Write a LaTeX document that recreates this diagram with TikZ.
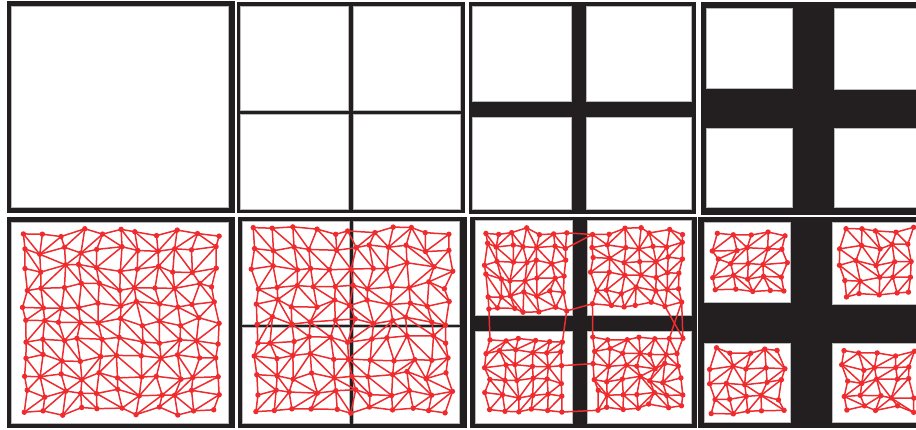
\documentclass[tikz,border=0pt]{standalone}
\usepackage{tikz}

\definecolor{ink}{HTML}{231F20}
\definecolor{meshred}{HTML}{EE2B2E}

% jittered triangle mesh: name, x0, y0, x1, y1, nx, ny
\newcommand{\trimesh}[7]{%
  \pgfmathsetmacro\mdx{(#4-#2)/#6}
  \pgfmathsetmacro\mdy{(#5-#3)/#7}
  \foreach \i in {0,...,#6}{
    \foreach \j in {0,...,#7}{
      \pgfmathsetmacro\px{#2+\i*\mdx+0.24*\mdx*rand}
      \pgfmathsetmacro\py{#3+\j*\mdy+0.24*\mdy*rand}
      \coordinate (#1-\i-\j) at (\px,\py);
    }
  }
  \pgfmathtruncatemacro\nxm{#6-1}
  \pgfmathtruncatemacro\nym{#7-1}
  % rows
  \foreach \i in {0,...,\nxm}{
    \pgfmathtruncatemacro\ii{\i+1}
    \foreach \j in {0,...,#7}{
      \draw[meshedge] (#1-\i-\j) -- (#1-\ii-\j);
    }
  }
  % columns
  \foreach \i in {0,...,#6}{
    \foreach \j in {0,...,\nym}{
      \pgfmathtruncatemacro\jj{\j+1}
      \draw[meshedge] (#1-\i-\j) -- (#1-\i-\jj);
    }
  }
  % diagonals
  \foreach \i in {0,...,\nxm}{
    \pgfmathtruncatemacro\ii{\i+1}
    \foreach \j in {0,...,\nym}{
      \pgfmathtruncatemacro\jj{\j+1}
      \pgfmathtruncatemacro\flip{rand>0}
      \ifnum\flip=1
        \draw[meshedge] (#1-\i-\j) -- (#1-\ii-\jj);
      \else
        \draw[meshedge] (#1-\ii-\j) -- (#1-\i-\jj);
      \fi
    }
  }
  % vertices
  \foreach \i in {0,...,#6}{
    \foreach \j in {0,...,#7}{
      \fill[meshdot] (#1-\i-\j) circle (0.27mm);
    }
  }
}

\begin{document}
\begin{tikzpicture}[x=0.1mm, y=-0.1mm,
  frame/.style={fill=ink},
  cell/.style={fill=white, draw=gray!55, line width=0.1mm},
  meshedge/.style={draw=meshred, line width=0.15mm},
  meshdot/.style={fill=meshred}]
  \useasboundingbox (0,0) rectangle (916,429);
  \clip (0,0) rectangle (916,429);
  \fill[white] (0,0) rectangle (916,429);

  % Top row: one square
  \fill[frame] (7,1) rectangle (235,213);
  \filldraw[cell] (12,6) rectangle (229,207);

  % four squares, thin gap
  \fill[frame] (237,2) rectangle (465,213);
  \filldraw[cell] (241,6) rectangle (349,110);
  \filldraw[cell] (354,6) rectangle (461,110);
  \filldraw[cell] (241,114) rectangle (349,209);
  \filldraw[cell] (354,114) rectangle (461,209);

  % four squares, wider gap
  \fill[frame] (469,2) rectangle (696,214);
  \filldraw[cell] (473,6) rectangle (572,101);
  \filldraw[cell] (587,6) rectangle (692,101);
  \filldraw[cell] (473,117) rectangle (572,209);
  \filldraw[cell] (587,117) rectangle (692,209);

  % four squares, wide gap
  \fill[frame] (701,2) rectangle (930,215);
  \filldraw[cell] (707,8) rectangle (793,88);
  \filldraw[cell] (835,8) rectangle (930,89);
  \filldraw[cell] (707,128) rectangle (793,207);
  \filldraw[cell] (835,128) rectangle (930,207);

  % Bottom row: meshes
  \fill[frame] (7,217) rectangle (235,428);
  \filldraw[cell] (12,222) rectangle (229,423);
  \pgfmathsetseed{7}
  \trimesh{ma}{24}{233}{215}{411}{10}{10}

  \fill[frame] (238,217) rectangle (467,428);
  \filldraw[cell] (243,221) rectangle (350,324);
  \filldraw[cell] (354,221) rectangle (460,324);
  \filldraw[cell] (243,327) rectangle (350,423);
  \filldraw[cell] (354,327) rectangle (460,423);
  \pgfmathsetseed{21}
  \trimesh{mb}{255}{231}{449}{411}{10}{10}

  \fill[frame] (470,217) rectangle (697,428);
  \filldraw[cell] (476,220) rectangle (573,315);
  \filldraw[cell] (588,220) rectangle (692,315);
  \filldraw[cell] (476,331) rectangle (573,423);
  \filldraw[cell] (588,331) rectangle (692,423);
  \pgfmathsetseed{33}
  \trimesh{mc}{486}{231}{566}{309}{6}{5}
  \trimesh{md}{594}{231}{682}{305}{6}{5}
  \trimesh{me}{488}{339}{562}{409}{5}{5}
  \trimesh{mf}{596}{338}{680}{407}{6}{5}
  % links across the bands
  \draw[meshedge] (mc-6-0) -- (md-0-0);
  \draw[meshedge] (mc-6-1) -- (md-0-0);
  \draw[meshedge] (mc-6-5) -- (md-0-5);
  \draw[meshedge] (mc-0-5) -- (me-0-0);
  \draw[meshedge] (mc-6-5) -- (me-5-0);
  \draw[meshedge] (md-0-5) -- (mf-0-0);
  \draw[meshedge] (md-6-5) -- (mf-6-0);
  \draw[meshedge] (md-5-5) -- (mf-6-0);
  \draw[meshedge] (md-6-5) -- (mf-5-0);
  \draw[meshedge] (me-5-2) -- (mf-0-2);
  \draw[meshedge] (me-5-5) -- (mf-0-5);

  \fill[frame] (698,217) rectangle (930,428);
  \filldraw[cell] (705,222) rectangle (791,302);
  \filldraw[cell] (833,222) rectangle (930,304);
  \filldraw[cell] (705,343) rectangle (791,422);
  \filldraw[cell] (833,343) rectangle (930,422);
  \pgfmathsetseed{45}
  \trimesh{mg}{716}{233}{784}{291}{4}{4}
  \trimesh{mh}{843}{231}{911}{294}{4}{4}
  \trimesh{mi}{713}{351}{781}{412}{4}{4}
  \trimesh{mj}{844}{353}{911}{409}{4}{4}
\end{tikzpicture}
\end{document}
